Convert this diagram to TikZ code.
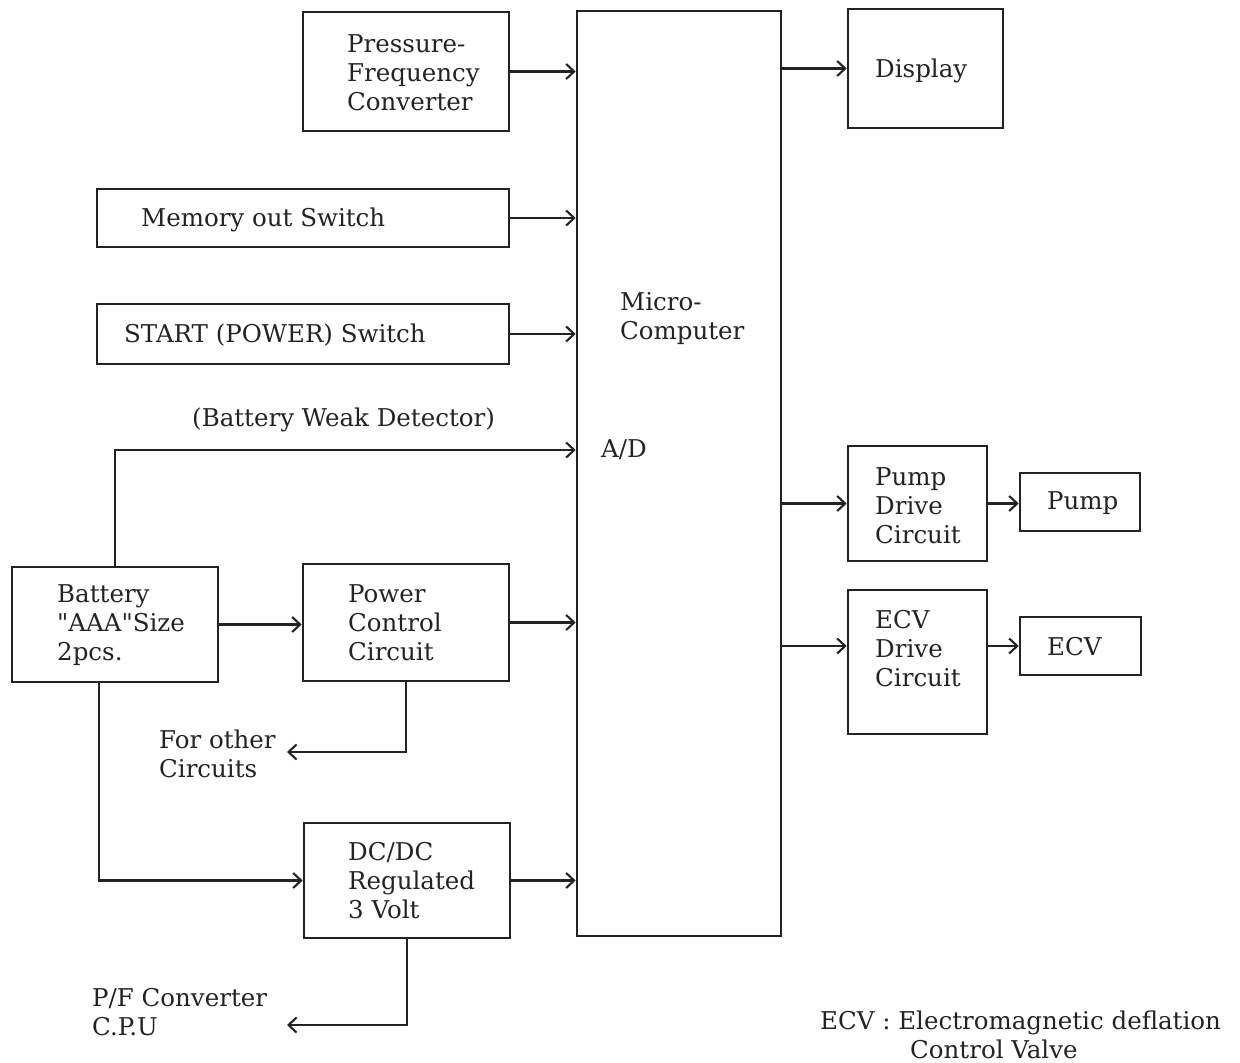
\documentclass[tikz,border=0pt]{standalone}
\usepackage{fontspec}
\setmainfont{DejaVu Serif}[Ligatures=TeXOff]
\usetikzlibrary{arrows.meta}
\definecolor{ink}{RGB}{35,35,35}
\begin{document}
\begin{tikzpicture}[x=1pt,y=-1pt,
  box/.style={draw=ink, line width=2.6pt, inner sep=0pt, rectangle},
  txt/.style={anchor=west, align=left, inner sep=0pt, text=ink,
    font=\fontsize{24.5}{29}\selectfont},
  arr/.style={draw=ink, line width=2.1pt,
    -{Straight Barb[length=8pt,width=15pt,line width=2.1pt]}}]
\useasboundingbox (0,0) rectangle (1240,1063);
% boxes
\node[box, minimum width=206pt, minimum height=119pt] (pfc) at (406,71.5) {};
\node[box, minimum width=412pt, minimum height=58pt] (mem) at (303,218) {};
\node[box, minimum width=412pt, minimum height=60pt] (start) at (303,334) {};
\node[box, minimum width=204pt, minimum height=925pt] (mc) at (679,473.5) {};
\node[box, minimum width=155pt, minimum height=119pt] (disp) at (925.5,68.5) {};
\node[box, minimum width=206pt, minimum height=115pt] (bat) at (115,624.5) {};
\node[box, minimum width=206pt, minimum height=117pt] (pwr) at (406,622.5) {};
\node[box, minimum width=206pt, minimum height=115pt] (dc) at (407,880.5) {};
\node[box, minimum width=139pt, minimum height=115pt] (pdrv) at (917.5,503.5) {};
\node[box, minimum width=120pt, minimum height=58pt] (pump) at (1080,502) {};
\node[box, minimum width=139pt, minimum height=144pt] (edrv) at (917.5,662) {};
\node[box, minimum width=121pt, minimum height=58pt] (ecv) at (1080.5,646) {};
% texts
\node[txt] (pfct) at (347,73) {Pressure-\\Frequency\\Converter};
\node[txt] (memt) at (141,220) {Memory out Switch};
\node[txt] (startt) at (124,335) {START (POWER) Switch};
\node[txt] (mct) at (620,319) {Micro-\\Computer};
\node[txt] (adt) at (601,450) {A/D};
\node[txt] (dispt) at (875,71) {Display};
\node[txt] (bwdt) at (192,420) {(Battery Weak Detector)};
\node[txt] (batt) at (57,625) {Battery\\"AAA"Size\\2pcs.};
\node[txt] (pwrt) at (348,623) {Power\\Control\\Circuit};
\node[txt] (dct) at (348,881) {DC/DC\\Regulated\\3 Volt};
\node[txt] (otht) at (159,753.5) {For other\\Circuits};
\node[txt] (pft) at (92,1012) {P/F Converter\\C.P.U};
\node[txt] (pdrvt) at (875,505.5) {Pump\\Drive\\Circuit};
\node[txt] (pumpt) at (1047,503) {Pump};
\node[txt] (edrvt) at (875,649) {ECV\\Drive\\Circuit};
\node[txt] (ecvt) at (1047,647) {ECV};
\node[txt] (note) at (820,1035) {ECV : Electromagnetic deflation\\\hspace*{90pt}Control Valve};
% free ends
\coordinate (oth) at (287,752);
\coordinate (pfout) at (287,1025);
% connectors
\draw[arr] (pfc.east) -- (pfc.east -| mc.west);
\draw[arr] (mem.east) -- (mem.east -| mc.west);
\draw[arr] (start.east) -- (start.east -| mc.west);
\draw[arr] (bat.north) |- (mc.west |- adt.west);
\draw[arr] (bat.east) -- (bat.east -| pwr.west);
\draw[arr] (pwr.east) -- (pwr.east -| mc.west);
\draw[arr] (pwr.south) |- (oth);
\draw[arr] ([xshift=-16pt]bat.south) |- (dc.west);
\draw[arr] (dc.east) -- (dc.east -| mc.west);
\draw[arr] (dc.south) |- (pfout);
\draw[arr] (disp.west -| mc.east) -- (disp.west);
\draw[arr] (pdrv.west -| mc.east) -- (pdrv.west);
\draw[arr] (pdrv.east) -- (pdrv.east -| pump.west);
\draw[arr] (ecv.west -| mc.east) -- (ecv.west -| edrv.west);
\draw[arr] (ecv.west -| edrv.east) -- (ecv.west);
\end{tikzpicture}
\end{document}
